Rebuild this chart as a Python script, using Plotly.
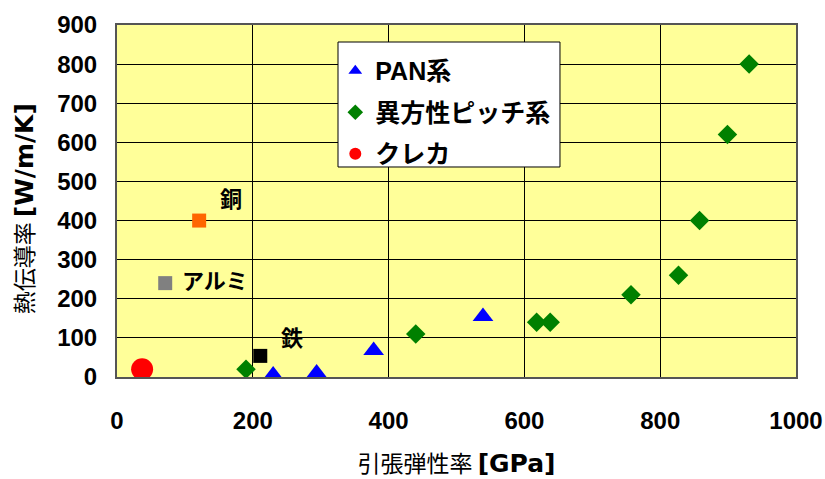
import plotly.graph_objects as go

pan_x = [230, 294, 378, 539]
pan_y = [5, 10, 68, 155]
pitch_x = [190, 440, 618, 638, 757, 827, 858, 899, 931]
pitch_y = [20, 110, 140, 140, 210, 260, 400, 620, 800]
kureha_x = [37]
kureha_y = [20]
metal_names = ["銅", "アルミ", "鉄"]
metal_x = [121, 71, 211]
metal_y = [400, 240, 54]
metal_colors = ["#FF6600", "#808080", "#000000"]
label_x = [168, 145, 257]
label_y = [460, 250, 104]

font_tick = "Liberation Sans, Arial, sans-serif"
font_jp = "Noto Sans CJK JP, sans-serif"
lat = "font-family:DejaVu Sans;font-weight:bold;font-size:25px"

fig = go.Figure()
fig.add_trace(go.Scatter(x=pan_x, y=pan_y, mode="markers",
                         name="<b><span style='font-family:Liberation Sans'>PAN</span>系</b>",
                         legendgroup="a",
                         marker=dict(symbol="triangle-up", size=18, color="#0000FF")))
fig.add_trace(go.Scatter(x=pitch_x, y=pitch_y, mode="markers", name="<b>異方性ピッチ系</b>",
                         legendgroup="b",
                         marker=dict(symbol="diamond", size=15, color="#008000")))
fig.add_trace(go.Scatter(x=kureha_x, y=kureha_y, mode="markers", name="<b>クレカ</b>",
                         legendgroup="c",
                         marker=dict(symbol="circle", size=22, color="#FF0000")))
for n, x, y, c in zip(metal_names, metal_x, metal_y, metal_colors):
    fig.add_trace(go.Scatter(x=[x], y=[y], mode="markers", showlegend=False,
                             marker=dict(symbol="square", size=14, color=c)))
for n, x, y in zip(metal_names, label_x, label_y):
    fig.add_annotation(x=x, y=y, text="<b>" + n + "</b>", showarrow=False,
                       xanchor="center", yanchor="middle",
                       font=dict(family=font_jp, size=22, color="black"))

# y axis title
fig.add_annotation(xref="paper", yref="paper", x=-0.139, y=0.478,
                   text="熱伝導率 <span style='" + lat + "'>[W/m/K]</span>",
                   textangle=-90, showarrow=False, xanchor="center", yanchor="middle",
                   font=dict(family=font_jp, size=23, color="black"))

# legend frame
fig.add_shape(type="rect", xref="paper", yref="paper",
              x0=0.3255, x1=0.6524, y0=0.5966, y1=0.9517,
              fillcolor="white", line=dict(color="black", width=1), layer="above")

fig.update_layout(
    width=825, height=479,
    margin=dict(l=117, r=29, t=25, b=102, autoexpand=False),
    paper_bgcolor="white", plot_bgcolor="#FFFF99",
    showlegend=True,
    legend=dict(x=0.3215, y=0.9347, xanchor="left", yanchor="top",
                bgcolor="rgba(0,0,0,0)", borderwidth=0,
                font=dict(family=font_jp, size=25, color="black"),
                itemsizing="constant", tracegroupgap=6),
    xaxis=dict(range=[0, 1000], tickvals=[0, 200, 400, 600, 800, 1000],
               showgrid=True, gridcolor="#000000", gridwidth=1,
               showline=True, linecolor="#555555", linewidth=2, mirror=True,
               zeroline=False, ticks="", ticklabelstandoff=21,
               ticklabeloverflow="allow",
               tickfont=dict(family=font_tick, size=24, color="black", weight="bold"),
               title=dict(text="引張弾性率 <span style='" + lat + "'>[GPa]</span>",
                          standoff=27,
                          font=dict(family=font_jp, size=23, color="black"))),
    yaxis=dict(range=[0, 900], tickvals=list(range(0, 1000, 100)),
               showgrid=True, gridcolor="#000000", gridwidth=1,
               showline=True, linecolor="#555555", linewidth=2, mirror=True,
               zeroline=False, ticks="", ticklabelstandoff=13,
               ticklabeloverflow="allow",
               tickfont=dict(family=font_tick, size=24, color="black", weight="bold")),
)

fig.write_html("out.html", config={"displayModeBar": False},
               post_script="document.body.style.margin='0';document.body.style.overflow='hidden';")
